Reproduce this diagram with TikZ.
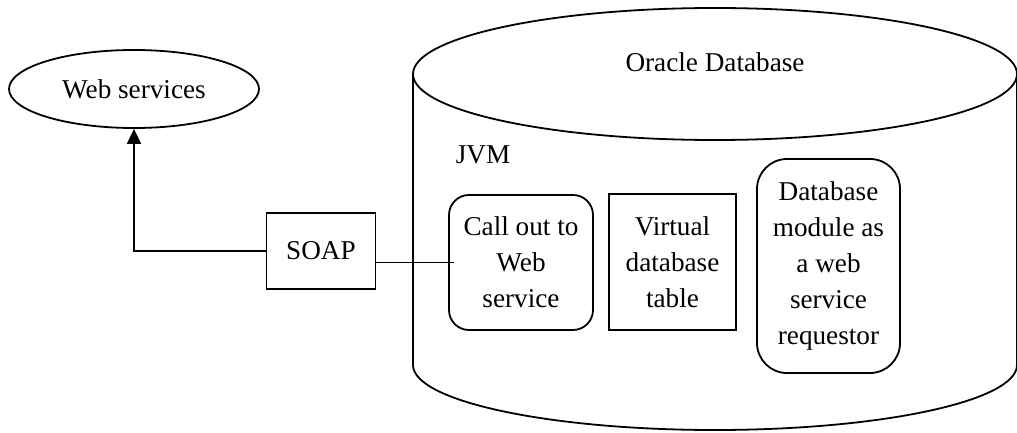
\documentclass[tikz,border=0pt]{standalone}
\usepackage{fontspec}
\setmainfont{Liberation Serif}
\usetikzlibrary{shapes.geometric,arrows.meta}
\begin{document}
\begin{tikzpicture}[x=0.5pt,y=-0.5pt,line width=0.9pt,
  every node/.style={font=\fontsize{13.6}{18}\selectfont, align=center, inner sep=0pt},
  sqbox/.style={draw},
  rbox/.style={draw, rounded corners=#1},
  cloud/.style={draw, ellipse},
  conn/.style={draw},
  arrowconn/.style={draw, -{Triangle[length=7.5pt,width=7pt]}}]
\useasboundingbox (0,0) rectangle (1017,433);
% cylinder
\draw (715,74) ellipse [x radius=151pt, y radius=33pt];
\draw (413,74) -- (413,365) arc[start angle=180,end angle=360,x radius=151pt,y radius=32.5pt] -- (1017,74);
\node[anchor=base] (oracle) at (715,72) {Oracle Database};
\node[anchor=base west] (jvm) at (455,163) {JVM};
% nodes
\node[cloud, minimum width=125pt, minimum height=39pt] (ws) at (134,89) {Web services};
\node[sqbox, minimum width=54.5pt, minimum height=38pt] (soap) at (321,251) {SOAP};
\node[rbox=10pt, minimum width=72pt, minimum height=67.5pt] (call) at (521,262.5) {Call out to\\Web\\service};
\node[sqbox, minimum width=63.5pt, minimum height=68pt] (vdt) at (672.5,262) {Virtual\\database\\table};
\node[rbox=15pt, minimum width=71.5pt, minimum height=107pt] (dbm) at (828.5,266) {Database\\module as\\a web\\service\\requestor};
% connectors
\path[arrowconn] (soap.west) -| (ws.south);
\path[conn] (soap.east |- call.west) -- ([xshift=3pt]call.west);
\end{tikzpicture}
\end{document}
